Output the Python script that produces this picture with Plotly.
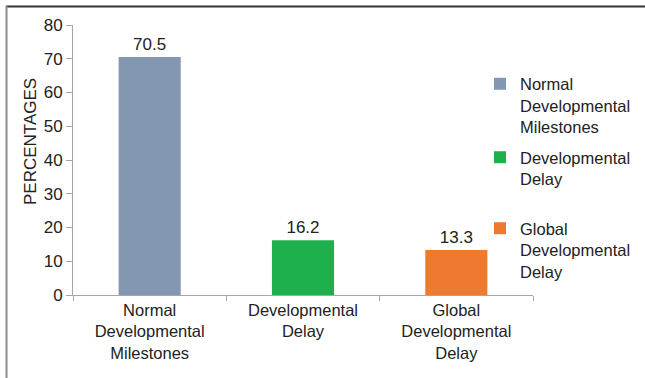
import plotly.graph_objects as go

categories = ["Normal<br>Developmental<br>Milestones", "Developmental<br>Delay", "Global<br>Developmental<br>Delay"]
legend_names = ["Normal<br>Developmental<br>Milestones", "Developmental<br>Delay", "Global<br>Developmental<br>Delay"]
values = [70.5, 16.2, 13.3]
colors = ["#8497B0", "#1FB04E", "#EE7A30"]
legend_ids = ["legend", "legend2", "legend3"]
legend_tops_px = [66.5, 140, 211]

W, H = 645, 378
L, R, T, B = 73, 112, 25, 83
pw, ph = W - L - R, H - T - B

FAM = "Liberation Sans, Arial"
fig = go.Figure()
for cat, name, v, c, lg in zip(categories, legend_names, values, colors, legend_ids):
    fig.add_trace(go.Bar(
        x=[cat], y=[v], name=name, marker=dict(color=c, line=dict(width=0)),
        width=0.405, text=[f"{v}"], textposition="outside", cliponaxis=False,
        textfont=dict(size=17, color="#222222", family=FAM),
        legend=lg,
    ))

font = dict(family=FAM, size=16.5, color="#222222")
leg_common = dict(font=font, bgcolor="rgba(0,0,0,0)", xanchor="left", yanchor="top",
                  xref="container", yref="container", itemwidth=30, tracegroupgap=0,
                  valign="top")
lx = 480 / W
fig.update_layout(
    width=W, height=H,
    margin=dict(l=L, r=R, t=T, b=B, autoexpand=False),
    paper_bgcolor="white", plot_bgcolor="white",
    barmode="overlay",
    font=font,
    showlegend=True,
    legend=dict(x=lx, y=1 - legend_tops_px[0] / H, **leg_common),
    legend2=dict(x=lx, y=1 - legend_tops_px[1] / H, **leg_common),
    legend3=dict(x=lx, y=1 - legend_tops_px[2] / H, **leg_common),
    xaxis=dict(
        categoryorder="array", categoryarray=categories,
        showline=True, linecolor="#A6A6A6", linewidth=1,
        ticks="outside", tickson="boundaries", ticklen=5, tickcolor="#A6A6A6",
        showgrid=False, tickfont=dict(size=16.5),
    ),
    yaxis=dict(
        range=[0, 80], dtick=10, showline=True, linecolor="#A6A6A6", linewidth=1,
        ticks="outside", ticklen=6, tickcolor="#A6A6A6", showgrid=False, zeroline=False,
        tickfont=dict(size=17),
    ),
    annotations=[dict(
        text="PERCENTAGES", textangle=-90, xref="paper", yref="paper",
        x=(30 - L) / pw, y=(H - B - 142) / ph, showarrow=False,
        xanchor="center", yanchor="middle", font=dict(size=17),
    )],
    shapes=[
        dict(type="line", xref="paper", yref="paper",
             x0=(6 - L) / pw, x1=(W - L) / pw, y0=1 + (T - 6.5) / ph, y1=1 + (T - 6.5) / ph,
             line=dict(color="#333333", width=2)),
        dict(type="line", xref="paper", yref="paper",
             x0=(6.5 - L) / pw, x1=(6.5 - L) / pw, y0=1 + (T - 6) / ph, y1=-(B) / ph,
             line=dict(color="#8C8C8C", width=2)),
    ],
)

fig.write_html("out.html")
